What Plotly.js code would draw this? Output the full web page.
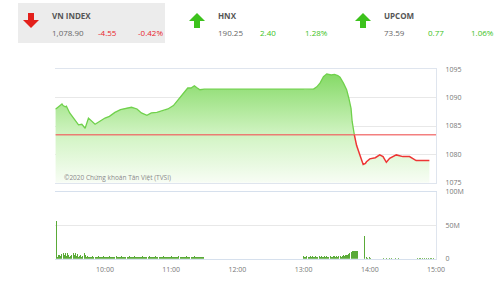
<!DOCTYPE html>
<html>
<head>
<meta charset="utf-8">
<script src="https://cdn.plot.ly/plotly-3.0.1.min.js"></script>
<style>html,body{margin:0;padding:0;background:#fff;}#chart{width:500px;height:281px;}</style>
</head>
<body>
<div id="chart"></div>
<script>
// ---------- DATA ----------
const DAY = '2020-06-01';
const refLevel = 1083.45;

const greenTimes = ['09:15','09:16','09:21','09:22','09:24','09:25','09:28','09:33','09:36','09:39','09:42','09:45','09:48','09:51','09:55','10:00','10:04','10:09','10:14','10:20','10:24','10:29','10:33','10:38','10:42','10:47','10:53','10:57','11:02','11:06','11:11','11:15','11:18','11:21','11:23','11:26','11:30','13:00','13:01','13:09','13:12','13:15','13:18','13:21','13:25','13:28','13:31','13:33','13:36','13:39','13:41','13:43','13:44','13:46'];
const greenValues = [1088.0,1088.1,1088.9,1088.6,1088.4,1088.5,1087.3,1086.1,1085.2,1085.3,1084.6,1086.4,1085.9,1085.3,1085.8,1086.4,1086.7,1087.4,1087.9,1088.2,1088.3,1088.0,1087.3,1086.9,1087.3,1087.4,1087.7,1088.0,1088.6,1089.6,1090.8,1091.7,1091.7,1092.1,1091.8,1091.4,1091.5,1091.5,1091.4,1091.5,1091.9,1092.6,1093.7,1094.2,1094.0,1094.1,1093.9,1093.6,1092.6,1091.4,1089.9,1088.1,1085.8,1083.45];

const redTimes = ['13:46','13:48','13:51','13:54','13:56','13:57','14:00','14:05','14:09','14:12','14:15','14:18','14:24','14:30','14:36','14:42','14:48','14:54'];
const redValues = [1083.45,1081.6,1079.9,1078.2,1078.4,1078.7,1079.2,1079.4,1079.9,1079.6,1078.6,1079.3,1079.9,1079.6,1079.6,1078.9,1078.9,1078.9];

// volume (millions), one value per minute
const amVolumeStart = '09:16';
const amVolume = [57,
 3,5,6,4,7,9,5,8,4,9, 6,3,4,5,8,6,9,4,7,3, 4,6,3,4,8,5,3,4,3,
 3,2,3,4,3,2,3,3,4,2, 3,3,2,4,3,3,2,3,4,3, 2,3,3,2,4,3,2,3,3,4, 3,2,3,3,2,3,4,3,2,3,
 3,4,2,3,3,2,3,3,4,3, 2,3,2,3,4,3,3,2,3,3, 4,2,3,3,2,3,3,4,3,2, 3,3,2,3,4,3,2,3,3,2,
 3,4,3,2,3,3,2,3,4,3, 2,3,3,2,3,4,3,2,3,3, 2,3,3,2];
const pmVolumeStart = '13:00';
const pmVolume = [
 4,3,3,4,3,3,4,3,4,3, 3,4,3,3,4,3,4,3,3,4, 3,4,3,3,4,3,3,4,4,3, 4,3,4,4,3,4,5,4,5,5,
 6,7,8,10,11,12,
 11,12,11,12,0,
 0,0,0,0,
 34,
 0,2,1,0,2,1,0,0,
 0,0,0,0,0,0,0,0,
 1.5,0,0,1.5,0,0,1.5,0,1.5,0,0,1.5,0,0,1.5,0,
 0,0,0,0,0,0,0,0,0,0,0,0,0,0,0,
 1.5,0,1.5,1.5,0,1.5,0,1.5,1.5,0,1.5,0,1.5,1.5,0,1.5];

const priceTicks = [1075,1080,1085,1090,1095];
const volTicks = [0,50,100];
const volTickText = ['0','50M','100M'];
const timeTicks = ['10:00','11:00','12:00','13:00','14:00','15:00'];

const header = [
  {name:'VN INDEX', value:'1,078.90', change:'-4.55', pct:'-0.42%', up:false},
  {name:'HNX', value:'190.25', change:'2.40', pct:'1.28%', up:true},
  {name:'UPCOM', value:'73.59', change:'0.77', pct:'1.06%', up:true}
];

// ---------- LAYOUT HELPERS ----------
const W = 500, H = 281;
const t = s => DAY + ' ' + s;
const px = x => x / W;
const py = y => 1 - y / H;
const RED = '#e8232a', GREEN = '#3cc21c';

const headerPos = [
  {arrowX:31, textX:50, chX:96, pctX:136},
  {arrowX:197, textX:216, chX:258, pctX:303},
  {arrowX:363, textX:382, chX:426, pctX:469}
];

function arrowPath(cx, top, bottom, up){
  const P = (x,y) => px(x).toFixed(4) + ',' + py(y).toFixed(4);
  if(!up){
    const mid = top + 7;
    return 'M'+P(cx-3,top)+' L'+P(cx+3,top)+' L'+P(cx+3,mid)+' L'+P(cx+8,mid)+' L'+P(cx,bottom)+' L'+P(cx-8,mid)+' L'+P(cx-3,mid)+' Z';
  } else {
    const mid = bottom - 7;
    return 'M'+P(cx-3,bottom)+' L'+P(cx+3,bottom)+' L'+P(cx+3,mid)+' L'+P(cx+8,mid)+' L'+P(cx,top)+' L'+P(cx-8,mid)+' L'+P(cx-3,mid)+' Z';
  }
}

const shapes = [
  {type:'rect', xref:'paper', yref:'paper', x0:px(18), x1:px(165), y0:py(43), y1:py(3), fillcolor:'#ececec', line:{width:0}, layer:'below'},
  {type:'line', xref:'x', yref:'y', x0:t('09:15'), x1:t('15:00'), y0:refLevel, y1:refLevel, line:{color:'rgba(240,95,95,0.8)', width:1.5}}
];
const annotations = [];
header.forEach((h,i) => {
  const p = headerPos[i];
  shapes.push({type:'path', xref:'paper', yref:'paper', path:arrowPath(p.arrowX, 13, 28, h.up), fillcolor:h.up?GREEN:'#e3201b', line:{width:0}});
  const col = h.up ? GREEN : RED;
  annotations.push({xref:'paper', yref:'paper', x:px(p.textX), y:py(15.5), xanchor:'left', yanchor:'middle', showarrow:false, text:'<b>'+h.name+'</b>', font:{family:'Open Sans', size:8, color:'#555'}});
  annotations.push({xref:'paper', yref:'paper', x:px(p.textX), y:py(33), xanchor:'left', yanchor:'middle', showarrow:false, text:h.value, font:{family:'Open Sans', size:8, color:'#666'}});
  annotations.push({xref:'paper', yref:'paper', x:px(p.chX), y:py(33), xanchor:'left', yanchor:'middle', showarrow:false, text:h.change, font:{family:'Open Sans', size:8, color:col}});
  annotations.push({xref:'paper', yref:'paper', x:px(p.pctX), y:py(33), xanchor:'left', yanchor:'middle', showarrow:false, text:h.pct, font:{family:'Open Sans', size:8, color:col}});
});
annotations.push({xref:'paper', yref:'paper', x:px(62), y:py(177.5), xanchor:'left', yanchor:'middle', showarrow:false, text:'©2020 Chứng khoán Tân Việt (TVSI)', font:{family:'Open Sans', size:6.5, color:'#8a8a8a'}});

// ---------- TRACES ----------
const allTimes = greenTimes.concat(redTimes.slice(1)).map(t);
const allValues = greenValues.concat(redValues.slice(1));

const traces = [
  {x:allTimes, y:allValues, type:'scatter', mode:'none', fill:'tozeroy',
   fillgradient:{type:'vertical', start:1075, stop:1095, colorscale:[[0,'rgb(248,253,245)'],[0.42,'rgb(210,244,196)'],[1,'rgb(128,216,96)']]},
   xaxis:'x', yaxis:'y', hoverinfo:'skip'},
  {x:greenTimes.map(t), y:greenValues, type:'scatter', mode:'lines', line:{color:'#70d14c', width:1.3}, xaxis:'x', yaxis:'y'},
  {x:redTimes.map(t), y:redValues, type:'scatter', mode:'lines', line:{color:'#ee3535', width:1.5}, xaxis:'x', yaxis:'y'},
  {type:'bar', x0:t(amVolumeStart), dx:60000, y:amVolume, width:55000, marker:{color:'#5aaa38', line:{width:0}}, xaxis:'x2', yaxis:'y2'},
  {type:'bar', x0:t(pmVolumeStart), dx:60000, y:pmVolume, width:55000, marker:{color:'#5aaa38', line:{width:0}}, xaxis:'x2', yaxis:'y2'}
];

const frameColor = '#dfe5ee';
const tickFont = {family:'Open Sans', size:7, color:'#777'};
const xDomain = [px(55.35), px(436)];
const layout = {
  width:W, height:H, margin:{l:0,r:0,t:0,b:0},
  paper_bgcolor:'#fff', plot_bgcolor:'#fff', showlegend:false, bargap:0,
  font:{family:'Open Sans'},
  xaxis:{domain:xDomain, anchor:'y', type:'date', range:[t('09:15'), t('15:00')], showticklabels:false, showgrid:false, zeroline:false, showline:true, mirror:true, linecolor:frameColor, linewidth:1, ticks:''},
  yaxis:{domain:[py(182.7), py(69.3)], anchor:'x', range:[1075,1095], side:'right', tickmode:'array', tickvals:priceTicks, ticktext:priceTicks.map(String), gridcolor:'#e8e8e8', zeroline:false, showline:true, linecolor:frameColor, ticks:'outside', ticklen:7, tickcolor:'rgba(0,0,0,0)', tickfont:tickFont},
  xaxis2:{domain:xDomain, anchor:'y2', type:'date', range:[t('09:15'), t('15:00')], tickmode:'array', tickvals:timeTicks.map(t), ticktext:timeTicks, showgrid:false, zeroline:false, showline:true, mirror:true, linecolor:'#d6e0ed', linewidth:1, ticks:'outside', ticklen:4, tickcolor:'rgba(0,0,0,0)', tickfont:tickFont},
  yaxis2:{domain:[py(258.7), py(191.7)], anchor:'x2', range:[0,100], side:'right', tickmode:'array', tickvals:volTicks, ticktext:volTickText, gridcolor:'#e8e8e8', zeroline:false, showline:true, linecolor:frameColor, ticks:'outside', ticklen:7, tickcolor:'rgba(0,0,0,0)', tickfont:tickFont},
  shapes:shapes, annotations:annotations
};

Plotly.newPlot('chart', traces, layout, {displayModeBar:false, staticPlot:true});
</script>
</body>
</html>
